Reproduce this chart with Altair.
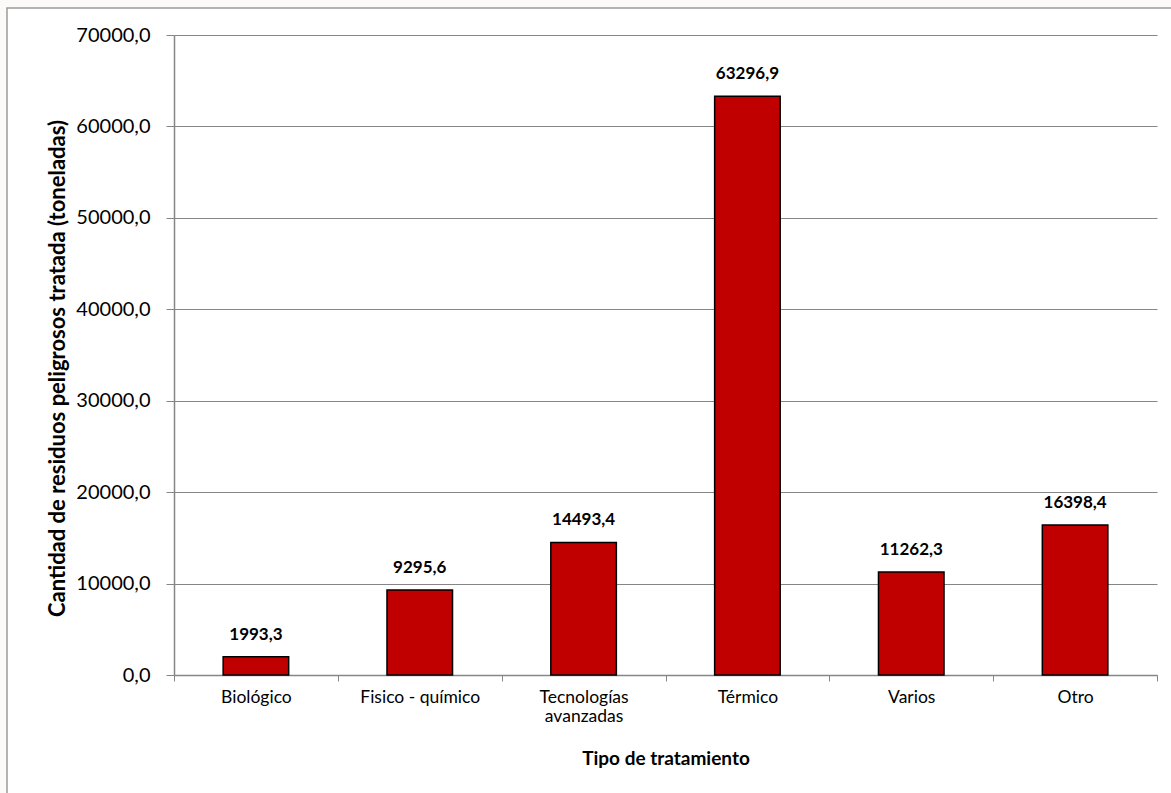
import altair as alt
import pandas as pd

# Treated hazardous waste by treatment type (tonnes)
categorias = ["Biológico", "Fisico - químico", "Tecnologías avanzadas", "Térmico", "Varios", "Otro"]
toneladas = [1993.3, 9295.6, 14493.4, 63296.9, 11262.3, 16398.4]
y_ticks = [0, 10000, 20000, 30000, 40000, 50000, 60000, 70000]

df = pd.DataFrame({"tipo": categorias, "toneladas": toneladas})

W, H = 983, 640
PAD = {"left": 174, "top": 35, "right": 14, "bottom": 118}
FONT = "Lato"
GRIS = "#868686"
ROJO = "#C00000"
FONDO = "#fbfaf8"

coma = "replace(format(datum.value, '.1f'), '.', ',')"

x_enc = alt.X(
    "tipo:N",
    sort=categorias,
    title="Tipo de tratamiento",
    scale=alt.Scale(paddingInner=0, paddingOuter=0),
    axis=alt.Axis(
        tickBand="extent",
        labelAngle=0,
        labelFont=FONT,
        labelFontSize=17.5,
        labelColor="black",
        labelPadding=7,
        labelLineHeight=19,
        labelExpr="datum.value == 'Tecnologías avanzadas' ? ['Tecnologías', 'avanzadas'] : datum.value",
        tickSize=6,
        tickColor=GRIS,
        domainColor=GRIS,
        domainWidth=1.5,
        grid=False,
        titleFont=FONT,
        titleFontSize=19,
        titleFontWeight="bold",
        titleColor="black",
        titleX=W / 2,
        titleY=83,
        titleAlign="center",
        titleBaseline="middle",
    ),
)

y_enc = alt.Y(
    "toneladas:Q",
    title="Cantidad de residuos peligrosos tratada (toneladas)",
    scale=alt.Scale(domain=[0, 70000], nice=False),
    axis=alt.Axis(
        values=y_ticks,
        labelExpr=coma,
        labelFont=FONT,
        labelFontSize=20,
        labelColor="black",
        labelPadding=16,
        tickSize=8,
        tickColor=GRIS,
        domainColor=GRIS,
        domainWidth=1.5,
        gridColor=GRIS,
        gridWidth=1,
        titleFont=FONT,
        titleFontSize=22,
        titleFontWeight="bold",
        titleColor="black",
        titleAngle=-90,
        titleX=-117,
        titleY=333,
        titleAlign="center",
        titleBaseline="middle",
    ),
)

base = alt.Chart(df)

barras = base.mark_bar(
    color=ROJO, stroke="black", strokeWidth=1.5, width=alt.RelativeBandSize(0.4)
).encode(x=x_enc, y=y_enc)

etiquetas = base.transform_calculate(
    etiqueta="replace(format(datum.toneladas, '.1f'), '.', ',')"
).mark_text(
    font=FONT, fontSize=17, fontWeight="bold", color="black", baseline="bottom", dy=-13
).encode(x=alt.X("tipo:N", sort=categorias), y="toneladas:Q", text="etiqueta:N")

# Chart-area frame: off-white margin strips and the grey border line
uno = alt.Data(values=[{}])
franja_sup = alt.Chart(uno).mark_rect(color=FONDO).encode(
    x=alt.value(-PAD["left"]), x2=alt.value(W + PAD["right"]),
    y=alt.value(-PAD["top"]), y2=alt.value(-27),
)
franja_izq = alt.Chart(uno).mark_rect(color=FONDO).encode(
    x=alt.value(-PAD["left"]), x2=alt.value(-167),
    y=alt.value(-PAD["top"]), y2=alt.value(H + PAD["bottom"]),
)
marco = alt.Chart(uno).mark_rect(
    fillOpacity=0, stroke="#9a9a9a", strokeWidth=1.5
).encode(
    x=alt.value(-167), x2=alt.value(W + 60),
    y=alt.value(-27), y2=alt.value(H + 200),
)

chart = alt.layer(franja_sup, franja_izq, marco, barras, etiquetas).properties(
    width=W,
    height=H,
    autosize=alt.AutoSizeParams(type="none"),
    padding=PAD,
    background="white",
).configure_view(stroke=None)

chart.save("out.html", embed_options={"renderer": "svg", "actions": False})
